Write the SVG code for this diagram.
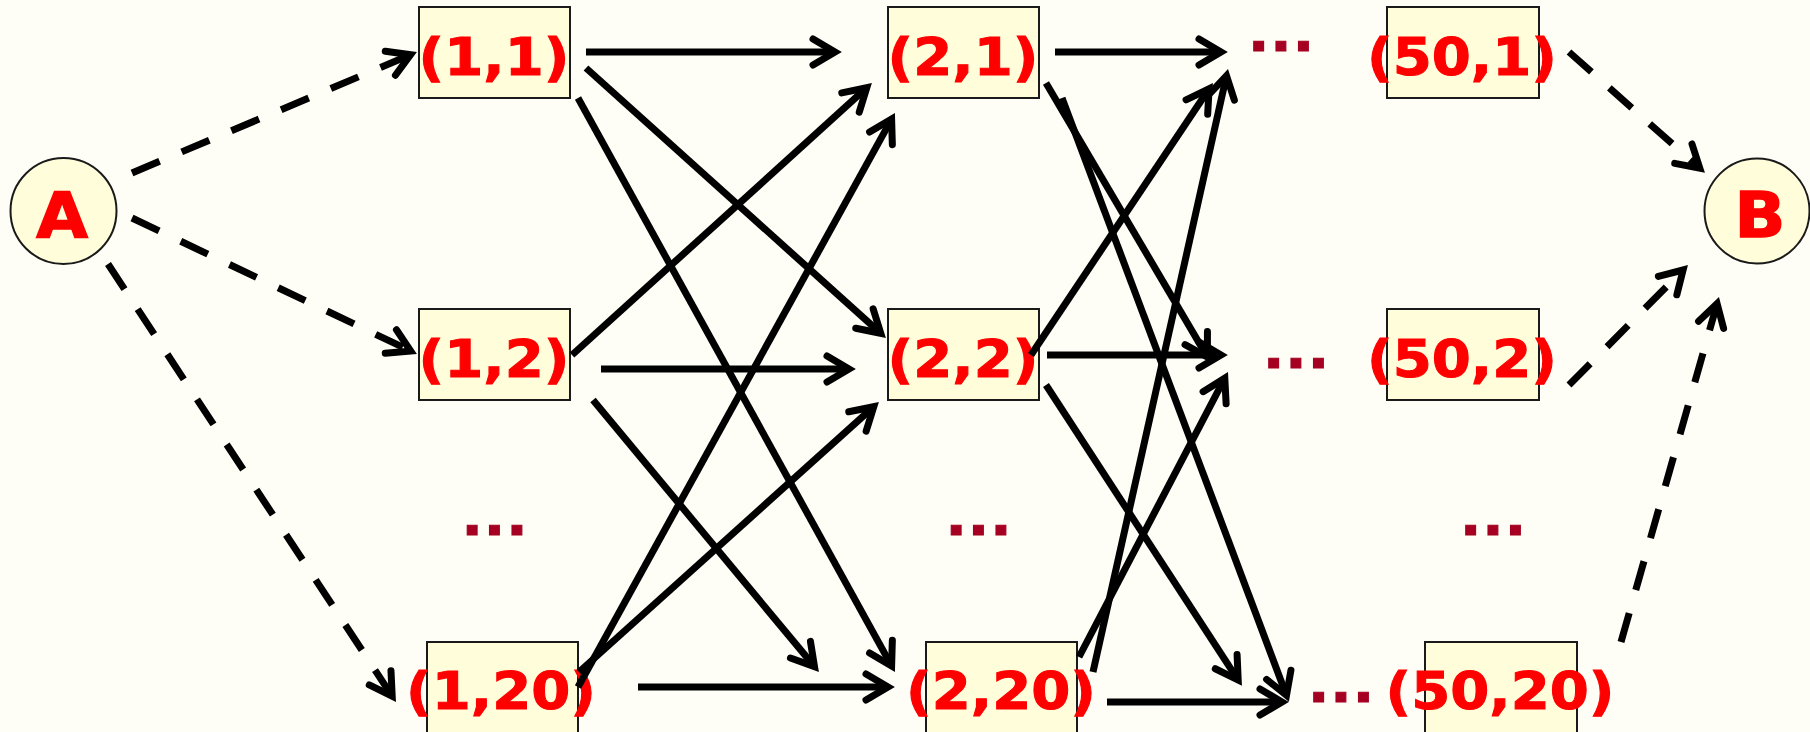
<svg xmlns="http://www.w3.org/2000/svg" width="1810" height="732" viewBox="0 0 1810 732">
<defs>
<style>
.bg{fill:#FEFEF7}
.box{fill:#FFFDDA;stroke:#1a1a1a;stroke-width:2}
.circ{fill:#FFFDDA;stroke:#1a1a1a;stroke-width:2}
.lbl{font-family:"DejaVu Sans",Verdana,sans-serif;font-weight:bold;font-size:52px;fill:#FF0000;stroke:#FF0000;stroke-width:1;text-anchor:middle}
.big{font-family:"DejaVu Sans",Verdana,sans-serif;font-weight:bold;font-size:63px;fill:#FF0000;stroke:#FF0000;stroke-width:1.5;text-anchor:middle}
.dots{font-family:"DejaVu Sans",Verdana,sans-serif;font-weight:bold;font-size:52px;fill:#A50021;stroke:#A50021;stroke-width:1;text-anchor:middle;letter-spacing:1px}
.c{stroke:#000;stroke-width:7;fill:none;marker-end:url(#ah)}
.d{stroke-dasharray:30 24}
</style>
<marker id="ah" markerUnits="userSpaceOnUse" markerWidth="60" markerHeight="60" viewBox="-40 -30 60 60" refX="0" refY="0" orient="auto" overflow="visible">
<path d="M-22,-13 L0,0 L-22,13" fill="none" stroke="#000" stroke-width="7" stroke-linecap="round" stroke-linejoin="miter"/>
</marker>
</defs>
<rect class="bg" x="0" y="0" width="1810" height="732"/>

<g id="nodeA"><circle class="circ" cx="63.5" cy="211" r="53"/><text class="big" transform="translate(62,237) scale(1.06,1)">A</text></g>
<g id="nodeB"><circle class="circ" cx="1757" cy="211" r="52.5"/><text class="big" transform="translate(1760,237) scale(1.06,1)">B</text></g>

<g id="n1_1"><rect class="box" x="419" y="7" width="151" height="91"/><text class="lbl" transform="translate(494,75) scale(1.08,1)">(1,1)</text></g>
<g id="n1_2"><rect class="box" x="419" y="309" width="151" height="91"/><text class="lbl" transform="translate(494,377) scale(1.08,1)">(1,2)</text></g>
<g id="n1_20"><rect class="box" x="427" y="642" width="151" height="91"/><text class="lbl" transform="translate(501,709) scale(1.08,1)">(1,20)</text></g>
<g id="n2_1"><rect class="box" x="888" y="7" width="151" height="91"/><text class="lbl" transform="translate(963,75) scale(1.08,1)">(2,1)</text></g>
<g id="n2_2"><rect class="box" x="888" y="309" width="151" height="91"/><text class="lbl" transform="translate(963,377) scale(1.08,1)">(2,2)</text></g>
<g id="n2_20"><rect class="box" x="926" y="642" width="151" height="91"/><text class="lbl" transform="translate(1001,709) scale(1.08,1)">(2,20)</text></g>
<g id="n50_1"><rect class="box" x="1387" y="7" width="152" height="91"/><text class="lbl" transform="translate(1462,75) scale(1.08,1)">(50,1)</text></g>
<g id="n50_2"><rect class="box" x="1387" y="309" width="152" height="91"/><text class="lbl" transform="translate(1462,377) scale(1.08,1)">(50,2)</text></g>
<g id="n50_20"><rect class="box" x="1425" y="642" width="152" height="91"/><text class="lbl" transform="translate(1500,709) scale(1.08,1)">(50,20)</text></g>

<g id="ellipses">
<text class="dots" transform="translate(1281.5,51) scale(1.08,1)">...</text>
<text class="dots" transform="translate(1296.5,368) scale(1.08,1)">...</text>
<text class="dots" transform="translate(1341.5,702) scale(1.08,1)">...</text>
<text class="dots" transform="translate(495,535) scale(1.08,1)">...</text>
<text class="dots" transform="translate(979,535) scale(1.08,1)">...</text>
<text class="dots" transform="translate(1493.5,535) scale(1.08,1)">...</text>
</g>

<g id="connectors">
<path class="c d" d="M132,173 L410.6,54.7"/>
<path class="c d" d="M132,218 L410.7,351"/>
<path class="c d" d="M108,264 L392.2,696.2"/>
<path class="c d" d="M1569,52 L1699.8,168.3"/>
<path class="c d" d="M1569,385 L1683.1,270"/>
<path class="c d" d="M1621,642 L1717.1,303.7"/>

<path class="c" d="M586,52 L835,52"/>
<path class="c" d="M586,68 L880.8,333.3"/>
<path class="c" d="M578,98 L891.6,665.9"/>
<path class="c" d="M572,355 L866.8,87.7"/>
<path class="c" d="M601,369 L849,369"/>
<path class="c" d="M593,400 L814.5,666.6"/>
<path class="c" d="M578,687 L891.6,119.1"/>
<path class="c" d="M579,672 L873.8,406.7"/>
<path class="c" d="M638,687 L888,687"/>

<path class="c" d="M1055,52 L1221,52"/>
<path class="c" d="M1046,83 L1207.4,357"/>
<path class="c" d="M1062,98 L1286.5,695.4"/>
<path class="c" d="M1031,355 L1209.1,88.8"/>
<path class="c" d="M1047,355 L1221,355"/>
<path class="c" d="M1046,385 L1238.2,680.1"/>
<path class="c" d="M1093,672 L1226.5,75.8"/>
<path class="c" d="M1079,657 L1224.8,378.2"/>
<path class="c" d="M1107,702 L1282,702"/>
</g>
</svg>
